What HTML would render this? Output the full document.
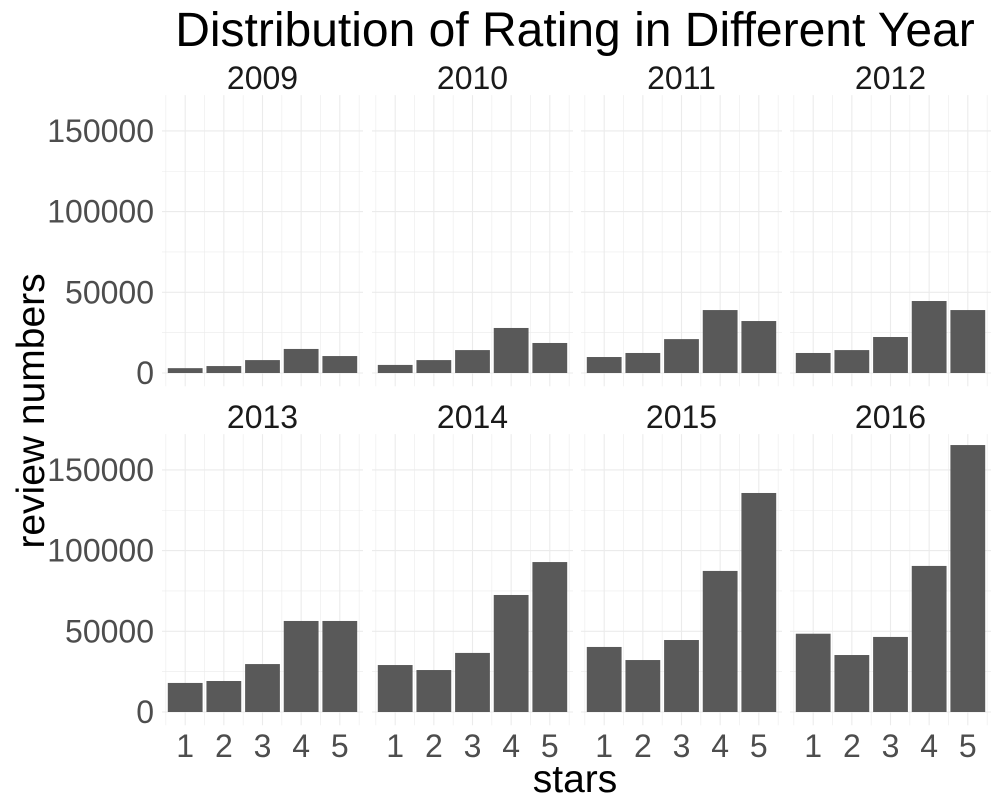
<!DOCTYPE html>
<html><head><meta charset="utf-8"><style>
body{margin:0;background:#fff;width:1000px;height:800px;overflow:hidden}
svg text{font-family:"Liberation Sans",sans-serif}
</style></head><body>
<svg id="chart" width="1000" height="800"></svg>
<script>
const years = ["2009","2010","2011","2012","2013","2014","2015","2016"];
const stars = [1,2,3,4,5];
const v2009 = [3000,4300,8000,14900,10500];
const v2010 = [5000,8000,14200,27900,18600];
const v2011 = [9900,12400,21000,39000,32200];
const v2012 = [12400,14200,22300,44600,39000];
const v2013 = [18000,19200,29700,56400,56400];
const v2014 = [29100,26000,36600,72500,92900];
const v2015 = [40300,32200,44600,87400,135700];
const v2016 = [48500,35300,46500,90500,165400];
const yTicks = [0,50000,100000,150000];
const series = [v2009,v2010,v2011,v2012,v2013,v2014,v2015,v2016];

const NS="http://www.w3.org/2000/svg";
const svg=document.getElementById('chart');
function mk(t,a,p){const e=document.createElementNS(NS,t);for(const k in a)e.setAttribute(k,a[k]);(p||svg).appendChild(e);return e;}
const pxPer=80.7/50000;
const colX0=[162,372,581,790], pw=201;
const rowZero=[373,712];
const xs=(col,s)=>colX0[col]+(s-0.4)*pw/5.2;
const ys=(row,v)=>rowZero[row]-v*pxPer;

let t=mk('text',{x:575,y:46,'font-size':48,'text-anchor':'middle',fill:'#000'});t.textContent='Distribution of Rating in Different Year';



series.forEach((vals,i)=>{
  const col=i%4,row=Math.floor(i/4);
  const g=mk('g',{});
  
  
  const top=ys(row,172200), bot=ys(row,-8200);
  for(let v=0;v<=170000;v+=25000){
    const y=ys(row,v);
    mk('line',{x1:colX0[col],x2:colX0[col]+pw,y1:y,y2:y,stroke:'#ebebeb','stroke-width':v%50000?0.6:1.1},g);
  }
  for(let s=0.5;s<=5.5;s+=0.5){
    const x=xs(col,s);
    mk('line',{x1:x,x2:x,y1:top,y2:bot,stroke:'#ebebeb','stroke-width':Number.isInteger(s)?1.1:0.6},g);
  }
  const st=mk('text',{x:colX0[col]+pw/2,y:row?428:89,'font-size':32,'text-anchor':'middle',fill:'#1a1a1a'},g);
  st.textContent=years[i];
  
  
  stars.forEach((s,j)=>{
    const x=xs(col,s-0.45),w=xs(col,s+0.45)-x,y=ys(row,vals[j]);
    const r=mk('rect',{x:x,y:y,width:w,height:rowZero[row]-y,fill:'#595959'},g);
    
    
  });
  if(col===0){
    yTicks.forEach(v=>{
      const tt=mk('text',{x:154,y:ys(row,v)+11,'font-size':32,'text-anchor':'end',fill:'#4d4d4d'},g);
      tt.textContent=v;
      
      
    });
  }
  if(row===1){
    stars.forEach(s=>{
      const tt=mk('text',{x:xs(col,s),y:757,'font-size':32,'text-anchor':'middle',fill:'#4d4d4d'},g);
      tt.textContent=s;
      
      
    });
  }
});
t=mk('text',{x:575,y:792,'font-size':39,'text-anchor':'middle',fill:'#000'});t.textContent='stars';


t=mk('text',{x:0,y:0,'font-size':39,'text-anchor':'middle',fill:'#000',transform:'translate(44,411) rotate(-90)'});t.textContent='review numbers';


</script>
</body></html>
